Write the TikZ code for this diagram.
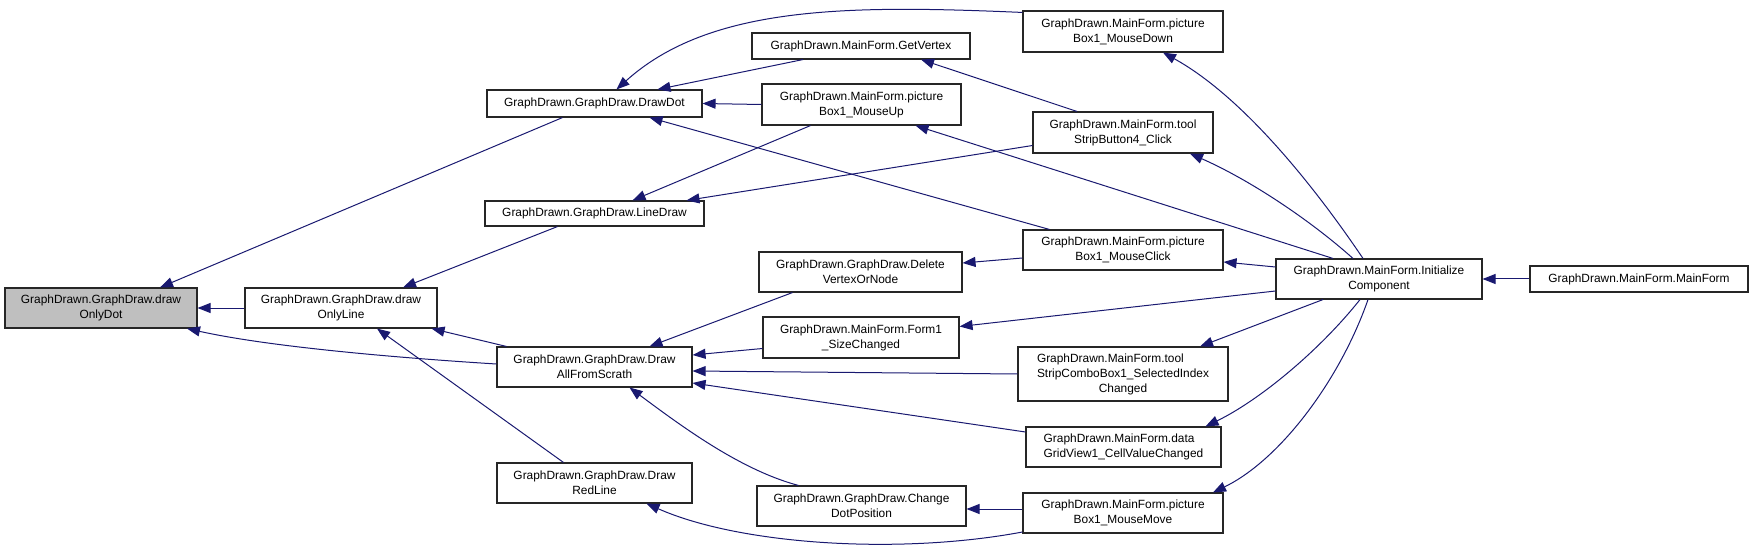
\documentclass[tikz,border=0pt]{standalone}
\usepackage{fontspec}
\setmainfont{Liberation Sans}
\usetikzlibrary{arrows.meta}
\definecolor{edgeblue}{RGB}{25,25,112}
\definecolor{focusgray}{RGB}{191,191,191}
\newcommand{\fnBox}[6][]{%
  \node[fn,#1,minimum width=#4pt,minimum height=#5pt] (#2) at (#3) {#6};}

\begin{document}
\begin{tikzpicture}[x=1pt,y=-1pt,
  fn/.style={draw=black!85,line width=1.1pt,fill=white,inner sep=0pt,align=center,
    font=\fontsize{11.9}{15}\selectfont},
  call/.style={draw=edgeblue,line width=1pt,-{Triangle[length=13pt,width=10pt,fill=edgeblue]}}]
  \useasboundingbox (0,0) rectangle (1753,553);
  \fnBox[fill=focusgray]{onlydot}{101,308}{192}{40}{GraphDrawn.GraphDraw.draw\\OnlyDot}
  \fnBox{line}{341,308}{192}{40}{GraphDrawn.GraphDraw.draw\\OnlyLine}
  \fnBox{drawdot}{594.5,103.5}{215}{27}{GraphDrawn.GraphDraw.DrawDot}
  \fnBox{linedraw}{594.5,213.5}{219}{25}{GraphDrawn.GraphDraw.LineDraw}
  \fnBox{allfrom}{594.5,367}{195}{40}{GraphDrawn.GraphDraw.Draw\\AllFromScrath}
  \fnBox{redline}{594.5,483}{195}{40}{GraphDrawn.GraphDraw.Draw\\RedLine}
  \fnBox{getvertex}{861,46}{218}{26}{GraphDrawn.MainForm.GetVertex}
  \fnBox{mouseup}{861.5,104.5}{199}{41}{GraphDrawn.MainForm.picture\\Box1\_MouseUp}
  \fnBox{delete}{860.5,272}{203}{40}{GraphDrawn.GraphDraw.Delete\\VertexOrNode}
  \fnBox{sizechanged}{861,337.5}{196}{41}{GraphDrawn.MainForm.Form1\\\_SizeChanged}
  \fnBox{changedot}{861.5,506}{209}{40}{GraphDrawn.GraphDraw.Change\\DotPosition}
  \fnBox{mousedown}{1123,31.5}{200}{41}{GraphDrawn.MainForm.picture\\Box1\_MouseDown}
  \fnBox{button}{1123,132.5}{180}{41}{GraphDrawn.MainForm.tool\\StripButton4\_Click}
  \fnBox{mouseclick}{1123,250}{200}{40}{GraphDrawn.MainForm.picture\\Box1\_MouseClick}
  \fnBox{combo}{1123,374}{210}{54}{\rlap{GraphDrawn.MainForm.tool}\phantom{StripComboBox1\_SelectedIndex}\\StripComboBox1\_SelectedIndex\\Changed}
  \fnBox[align=left]{datagrid}{1123.5,447}{195}{40}{GraphDrawn.MainForm.data\\GridView1\_CellValueChanged}
  \fnBox{mousemove}{1123,513}{200}{40}{GraphDrawn.MainForm.picture\\Box1\_MouseMove}
  \fnBox{init}{1379,279}{206}{40}{GraphDrawn.MainForm.Initialize\\Component}
  \fnBox{mainform}{1639,279}{218}{26}{GraphDrawn.MainForm.MainForm}

  \draw[call] (line.west) -- (onlydot.east);
  \draw[call] ([xshift=-32pt]drawdot.south) -- ([xshift=59pt]onlydot.north);
  \draw[call] ([yshift=3pt]allfrom.west) .. controls (400,358) and (270,347) .. ([xshift=86pt]onlydot.south);
  \draw[call] ([xshift=-37pt]linedraw.south) -- ([xshift=62pt]line.north);
  \draw[call] ([xshift=10pt]allfrom.north west) -- ([xshift=-6pt]line.south east);
  \draw[call] ([xshift=-31pt]redline.north) -- ([xshift=36pt]line.south);
  \draw[call] ([yshift=-2pt]mousedown.north west) .. controls (850,5) and (710,5) .. ([xshift=22pt]drawdot.north);
  \draw[call] ([xshift=-58pt]getvertex.south) -- ([xshift=63pt]drawdot.north);
  \draw[call] (mouseup.west) -- (drawdot.east);
  \draw[call] ([xshift=27pt]mouseclick.north west) -- ([xshift=55pt]drawdot.south);
  \draw[call] ([xshift=-51pt]mouseup.south) -- ([xshift=38pt]linedraw.north);
  \draw[call] ([yshift=-13pt]button.west) -- ([xshift=92pt]linedraw.north);
  \draw[call] ([yshift=-8pt]mouseclick.west) -- ([yshift=9pt]delete.east);
  \draw[call] ([xshift=-68pt]delete.south) -- ([xshift=55pt]allfrom.north);
  \draw[call] ([yshift=-11pt]sizechanged.west) -- ([yshift=12pt]allfrom.east);
  \draw[call] (combo.west) -- ([yshift=-4pt]allfrom.east);
  \draw[call] ([yshift=15pt]datagrid.west) -- ([yshift=-16pt]allfrom.east);
  \draw[call] ([xshift=-63pt]changedot.north) .. controls (740,470) and (680,425) .. ([xshift=35pt]allfrom.south);
  \draw[call] ([yshift=4pt]mousemove.west) -- ([yshift=-3pt]changedot.east);
  \draw[call] ([yshift=-19pt]mousemove.west) .. controls (900,555) and (740,545) .. ([xshift=52pt]redline.south);
  \draw[call] ([xshift=-46pt]button.north) -- ([xshift=60pt]getvertex.south);
  \draw[call] ([xshift=-16pt]init.north) .. controls (1310,180) and (1240,95) .. ([xshift=40pt]mousedown.south);
  \draw[call] ([xshift=-46pt]init.north) -- ([xshift=54pt]mouseup.south);
  \draw[call] ([xshift=-26pt]init.north) .. controls (1310,220) and (1250,180) .. ([xshift=67pt]button.south);
  \draw[call] ([yshift=12pt]init.west) -- ([yshift=-12pt]mouseclick.east);
  \draw[call] ([yshift=-12pt]init.west) -- ([yshift=11pt]sizechanged.east);
  \draw[call] ([xshift=-56pt]init.south) -- ([xshift=77pt]combo.north);
  \draw[call] ([xshift=-19pt]init.south) .. controls (1320,350) and (1260,400) .. ([xshift=82pt]datagrid.north);
  \draw[call] ([xshift=-11pt]init.south) .. controls (1340,380) and (1280,460) .. ([xshift=90pt]mousemove.north);
  \draw[call] (mainform.west) -- (init.east);
\end{tikzpicture}
\end{document}
